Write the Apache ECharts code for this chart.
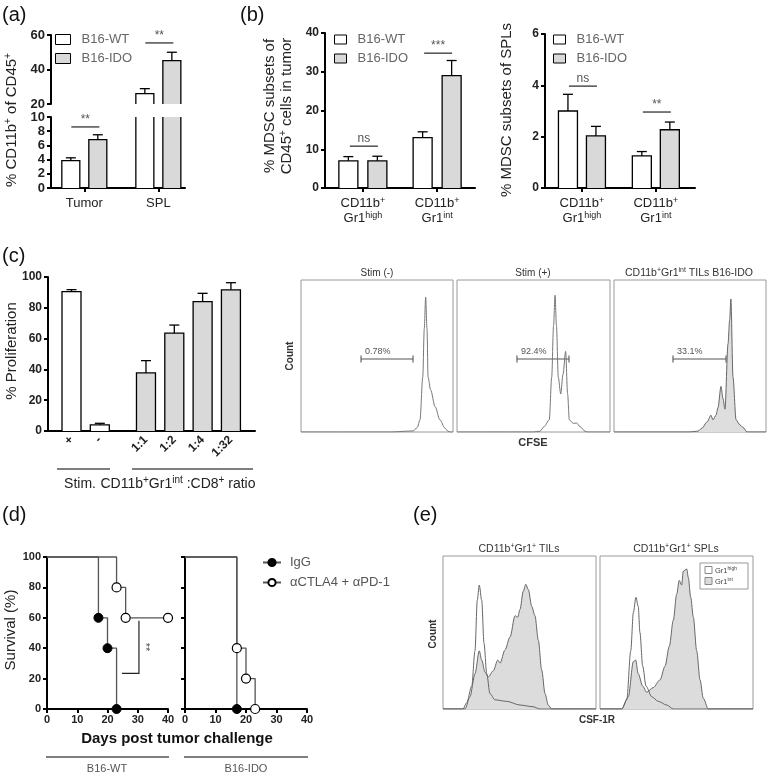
<!DOCTYPE html>
<html><head><meta charset="utf-8">
<script src="https://cdn.jsdelivr.net/npm/echarts@6/dist/echarts.min.js"></script>
<style>html,body{margin:0;padding:0;background:#fff}#c{width:769px;height:776px}</style>
</head><body><div id="c"></div><script>
// ================= DATA =================
// (a) % CD11b+ of CD45+
const aCats = ['Tumor', 'SPL'];
const aWT = [3.85, 26.0], aWTerr = [0.4, 2.9];
const aIDO = [6.8, 45.1], aIDOerr = [0.7, 4.9];
const aSigLow = [{cat: 0, y: 8.6, text: '**'}];
const aSigUp = [{cat: 1, y: 55.4, text: '**'}];
// (b) MDSC subsets in tumor / in spleen
const bCats = ['CD11b^{+}\nGr1^{high}', 'CD11b^{+}\nGr1^{int}'];
const bTumorWT = [7.0, 13.0], bTumorWTerr = [1.1, 1.5];
const bTumorIDO = [7.0, 29.0], bTumorIDOerr = [1.2, 3.9];
const bTumorSig = [{cat: 0, y: 10.8, text: 'ns'}, {cat: 1, y: 34.8, text: '***'}];
const bSplWT = [3.0, 1.25], bSplWTerr = [0.65, 0.17];
const bSplIDO = [2.03, 2.27], bSplIDOerr = [0.37, 0.3];
const bSplSig = [{cat: 0, y: 3.97, text: 'ns'}, {cat: 1, y: 2.96, text: '**'}];
// (c) proliferation
const cCats = ['+', '-', '1:1', '1:2', '1:4', '1:32'];
const cProlif = [90.5, 4.0, 37.7, 63.5, 84.0, 91.7];
const cProlifErr = [1.3, 1.0, 8.0, 5.3, 5.4, 4.6];
const cGroupOf = [0, 0, 1, 1, 1, 1];
// (c) CFSE histograms  [CFSE (% of range), count (% of max scale)]
const cfseStimNeg = [[0,0],[60,0],[68.4,0.5],[73.9,0.7],[76.5,3],[78.3,8],[80.1,36],[81.1,68],[82.0,88.8],[82.9,68],[83.6,36],[85.3,27.6],[88.2,16.7],[91.4,8],[94.7,2.6],[96.7,0.5],[98,0],[100,0]];
const cfseStimPos = [[0,0],[50,0],[54.2,0.5],[56.9,3.5],[60.3,8],[61.9,36],[63.1,70],[64.1,90],[65.0,70],[66.2,36],[67.8,25],[69.3,38],[71.0,53],[72.3,25],[73.4,8],[76.0,5.7],[78.2,5.9],[80.4,3.5],[83.7,0.5],[85,0],[100,0]];
const cfseTilIdo = [[0,0],[50,0],[55.3,0.6],[57.9,2.6],[61.2,6.6],[63.8,11],[65.1,8],[67.1,11],[68.4,16],[70.4,30],[71.7,22],[73.0,15],[75.0,58],[76.1,74],[76.9,87.5],[78.3,36],[80.3,8],[82.9,4.6],[84.9,3],[87.5,0],[100,0]];
const cfseGates = [{lo: 39.5, hi: 73.7, y: 48, label: '0.78%'}, {lo: 39.2, hi: 73.2, y: 48, label: '92.4%'}, {lo: 38.8, hi: 73.7, y: 48, label: '33.1%'}];
// (d) survival
const wtIgGDays = [0, 17, 20, 23], wtIgGSurv = [100, 60, 40, 0];
const wtAbDays = [0, 23, 26, 40], wtAbSurv = [100, 80, 60, 60];
const idoIgGDays = [0, 17], idoIgGSurv = [100, 0];
const idoAbDays = [0, 17, 20, 23], idoAbSurv = [100, 40, 20, 0];
const sigD = [{x1: 24.8, x2: 30.4, yTop: 58, yBottom: 23.5, text: '**'}];
// (e) CSF-1R histograms
const tilHigh = [[0,0],[13,0],[15.5,4],[18.8,15],[20.9,38],[22.4,71],[23.7,81],[25.3,71],[26.8,43],[28.6,23],[30.7,10],[34.0,6],[41.6,5],[50.3,2.6],[58.8,1.5],[63.4,0],[100,0]];
const tilInt = [[0,0],[14.4,0],[17.6,8],[20.9,23],[23.7,38],[25.3,32],[27.5,24],[29.6,21],[32.9,25],[35.8,32],[37.3,30],[40.5,38.6],[43.8,47],[47.1,61],[48.8,60],[50.3,65],[52.5,77],[54.1,81.5],[55.8,78],[58.0,67],[60.1,61],[62.3,45],[64.5,25.5],[66.7,10],[68.8,2.6],[71.0,0],[100,0]];
const splHigh = [[0,0],[14.2,0],[17.5,6],[20.1,38],[21.8,63],[23.5,73],[25.0,67],[26.1,50],[27.9,28],[30.1,15],[33.8,8],[38.1,5],[43.6,2.6],[47.9,0],[100,0]];
const splInt = [[0,0],[14.2,0],[18.5,8],[21.8,31],[23.3,32],[25.0,23],[27.9,15],[30.5,11],[34.8,14],[39.2,19],[42.5,28],[45.3,41],[47.9,58],[50.1,75],[51.8,84],[53.4,81],[54.4,90],[56.7,91.5],[57.7,86],[59.3,73],[61.0,60],[63.2,38],[65.4,19],[67.5,7],[70.8,0],[100,0]];

// ================= HELPERS =================
const F = '"Liberation Sans", Arial, Helvetica, sans-serif';
const WT_FILL = '#ffffff', IDO_FILL = '#d9d9d9';
function toRich(s) {
  return s.split('\n').map(line => line.split(/(\^\{[^}]*\})/).filter(p => p.length)
    .map(p => p.startsWith('^{') ? '{s|' + p.slice(2, -1) + '}' : '{n|' + p + '}').join('')).join('\n');
}
function richSet(size, color, weight, lh) {
  lh = lh || Math.round(size * 1.2);
  return {
    n: {fontSize: size, fontFamily: F, fontWeight: weight || 'normal', lineHeight: lh, color: color, fill: color},
    s: {fontSize: Math.round(size * 0.68), fontFamily: F, fontWeight: weight || 'normal', verticalAlign: 'top', color: color, fill: color}
  };
}
function T(x, y, text, o) {
  o = o || {};
  const size = o.size || 12, color = o.color || '#222', weight = o.weight || 'normal';
  const st = {text: o.rich ? toRich(text) : text, fill: color, fontSize: size, fontFamily: F, fontWeight: weight,
    textAlign: o.align || 'center', align: o.align || 'center',
    textVerticalAlign: o.va || 'middle', verticalAlign: o.va || 'middle'};
  if (o.rich) st.rich = richSet(size, color, weight, o.lh);
  return {type: 'text', x: x, y: y, rotation: o.rot || 0, silent: true, z: 100, style: st};
}
function L(x1, y1, x2, y2, w, c) {
  return {type: 'line', silent: true, z: 100, shape: {x1, y1, x2, y2}, style: {stroke: c || '#000', lineWidth: w || 1.2}};
}
function grid(l, t, w, h, show) {
  return {left: l, top: t, width: w, height: h, show: !!show, borderColor: '#9a9a9a', borderWidth: 1, containLabel: false};
}
const AX_LINE = {show: true, onZero: false, lineStyle: {color: '#000', width: 2}};
const AX_TICK = {show: true, length: 4, lineStyle: {color: '#000', width: 2}};
function catX(gi, min, max, cats, show) {
  const idx = cats.map((_, i) => i);
  return {type: 'value', gridIndex: gi, min, max, show: show !== false,
    axisLine: AX_LINE, axisTick: Object.assign({customValues: idx}, AX_TICK),
    axisLabel: {customValues: idx, margin: 8, color: '#222', formatter: v => toRich(cats[Math.round(v)]), rich: richSet(13, '#222', 'normal', 15)},
    splitLine: {show: false}};
}
function valY(gi, min, max, interval, showLabels, size) {
  return {type: 'value', gridIndex: gi, min, max, interval, axisLine: AX_LINE, axisTick: AX_TICK,
    axisLabel: {show: showLabels !== false, fontSize: size || 12, fontWeight: 'bold', color: '#222', margin: 6, fontFamily: F},
    splitLine: {show: false}};
}
function hid(gi) { return {type: 'value', gridIndex: gi, min: 0, max: 100, show: false}; }

function makeBars(name, gi, pts, off, bw, fills, ymin, ymax) {
  return {
    type: 'custom', name, xAxisIndex: gi, yAxisIndex: gi, clip: false, silent: true,
    itemStyle: {color: fills[0], borderColor: '#000', borderWidth: 1},
    data: pts,
    renderItem(params, api) {
      const c = api.value(0), v = api.value(1), e = api.value(2), f = fills[api.value(3) || 0];
      if (v <= ymin) return null;
      const vc = Math.min(v, ymax);
      const b = api.coord([c, ymin]), t = api.coord([c, vc]);
      const cx = b[0] + off, x0 = cx - bw / 2, x1 = cx + bw / 2;
      const ch = [{type: 'rect', shape: {x: x0, y: t[1], width: bw, height: b[1] - t[1]}, style: {fill: f, stroke: null}}];
      const S = {stroke: '#000', lineWidth: 1.3, fill: null};
      if (v <= ymax) {
        ch.push({type: 'polyline', shape: {points: [[x0, b[1]], [x0, t[1]], [x1, t[1]], [x1, b[1]]]}, style: S});
        const et = api.coord([c, Math.min(v + e, ymax)]);
        ch.push({type: 'line', shape: {x1: cx, y1: t[1], x2: cx, y2: et[1]}, style: S});
        ch.push({type: 'line', shape: {x1: cx - 5, y1: et[1], x2: cx + 5, y2: et[1]}, style: S});
      } else {
        ch.push({type: 'line', shape: {x1: x0, y1: b[1], x2: x0, y2: t[1]}, style: S});
        ch.push({type: 'line', shape: {x1: x1, y1: b[1], x2: x1, y2: t[1]}, style: S});
      }
      return {type: 'group', children: ch};
    }
  };
}
function pairBars(gi, wt, wtErr, ido, idoErr, off, bw, ymin, ymax) {
  return [
    makeBars('B16-WT', gi, wt.map((v, i) => [i, v, wtErr[i], 0]), -off, bw, [WT_FILL], ymin, ymax),
    makeBars('B16-IDO', gi, ido.map((v, i) => [i, v, idoErr[i], 0]), off, bw, [IDO_FILL], ymin, ymax)
  ];
}
function makeSig(gi, sigs) {
  return {
    type: 'custom', xAxisIndex: gi, yAxisIndex: gi, clip: false, silent: true,
    data: sigs.map((s, i) => [s.cat, s.y, i]),
    renderItem(params, api) {
      const p = api.coord([api.value(0), api.value(1)]);
      const s = sigs[api.value(2)];
      return {type: 'group', children: [
        {type: 'line', shape: {x1: p[0] - 13, y1: p[1], x2: p[0] + 15, y2: p[1]}, style: {stroke: '#222', lineWidth: 1.2}},
        {type: 'text', x: p[0] + 1, y: p[1] - 1, style: {text: s.text, fill: '#555', fontSize: 12, fontFamily: F,
          textAlign: 'center', align: 'center', textVerticalAlign: 'bottom', verticalAlign: 'bottom'}}
      ]};
    }
  };
}
function flowLine(gi, pts, fill, color) {
  const s = {type: 'line', xAxisIndex: gi, yAxisIndex: gi, data: pts, showSymbol: false, smooth: 0.3, smoothMonotone: 'x',
    silent: true, lineStyle: {color: color || '#777', width: 1}};
  if (fill) s.areaStyle = {color: fill, opacity: 1};
  return s;
}
function gateSeries(gi, g) {
  return {
    type: 'custom', xAxisIndex: gi, yAxisIndex: gi, clip: false, silent: true,
    data: [[g.lo, g.y, g.hi]],
    renderItem(params, api) {
      const a = api.coord([api.value(0), api.value(1)]), b = api.coord([api.value(2), api.value(1)]);
      const S = {stroke: '#555', lineWidth: 1.1};
      return {type: 'group', children: [
        {type: 'line', shape: {x1: a[0], y1: a[1], x2: b[0], y2: b[1]}, style: S},
        {type: 'line', shape: {x1: a[0], y1: a[1] - 3.5, x2: a[0], y2: a[1] + 3.5}, style: S},
        {type: 'line', shape: {x1: b[0], y1: b[1] - 3.5, x2: b[0], y2: b[1] + 3.5}, style: S},
        {type: 'text', x: a[0] + 4, y: a[1] - 3, style: {text: g.label, fill: '#555', fontSize: 9, fontFamily: F,
          textAlign: 'left', align: 'left', textVerticalAlign: 'bottom', verticalAlign: 'bottom'}}
      ]};
    }
  };
}
function survSeries(name, gi, days, surv, filled) {
  return {
    type: 'line', name, xAxisIndex: gi, yAxisIndex: gi, step: 'end', clip: false, silent: true,
    symbol: 'circle', symbolSize: 9, showAllSymbol: true,
    lineStyle: {color: '#555', width: 1.3},
    itemStyle: filled ? {color: '#000', borderColor: '#000', borderWidth: 1} : {color: '#fff', borderColor: '#000', borderWidth: 1.2},
    data: days.map((d, i) => i === 0 ? {value: [d, surv[i]], symbol: 'none'} : {value: [d, surv[i]]})
  };
}

const cPos = cCats.map((_, i) => i + (cGroupOf[i] ? 0.63 : 0));

// ================= OPTION =================
const grids = [
  grid(51, 35, 134, 69), grid(51, 117, 134, 71),
  grid(325, 33, 150, 155), grid(545, 34, 150, 154),
  grid(48, 277, 207, 154),
  grid(301, 280, 152, 152, true), grid(457, 280, 153, 152, true), grid(614, 280, 152, 152, true),
  grid(47, 557, 121, 152), grid(185, 557, 122, 152),
  grid(443, 556, 153, 153, true), grid(600, 556, 153, 153, true)
];
const xAxes = [
  catX(0, -0.45, 1.36, aCats, false), catX(1, -0.45, 1.36, aCats),
  catX(2, -0.51, 1.51, bCats), catX(3, -0.5, 1.53, bCats),
  {type: 'value', gridIndex: 4, min: -0.83, max: 6.48, axisLine: AX_LINE, axisTick: {show: false},
    axisLabel: {customValues: cPos, rotate: 45, margin: 7, fontSize: 12, fontWeight: 'bold', color: '#222', fontFamily: F,
      formatter: v => { const k = cPos.findIndex(p => Math.abs(p - v) < 1e-6); return k >= 0 ? cCats[k] : ''; }},
    splitLine: {show: false}},
  hid(5), hid(6), hid(7),
  {type: 'value', gridIndex: 8, min: 0, max: 40, interval: 10, axisLine: AX_LINE, axisTick: AX_TICK,
    axisLabel: {fontSize: 11, fontWeight: 'bold', color: '#222', margin: 5, fontFamily: F}, splitLine: {show: false}},
  {type: 'value', gridIndex: 9, min: 0, max: 40, interval: 10, axisLine: AX_LINE, axisTick: AX_TICK,
    axisLabel: {fontSize: 11, fontWeight: 'bold', color: '#222', margin: 5, fontFamily: F}, splitLine: {show: false}},
  hid(10), hid(11)
];
const yAxes = [
  valY(0, 20, 60, 20, true, 13), valY(1, 0, 10, 2, true, 13),
  valY(2, 0, 40, 10), valY(3, 0, 6, 2),
  valY(4, 0, 100, 20, true, 12),
  hid(5), hid(6), hid(7),
  valY(8, 0, 100, 20, true, 11), valY(9, 0, 100, 20, false),
  hid(10), hid(11)
];
const barLegendData = [
  {name: 'B16-WT', icon: 'rect', itemStyle: {color: WT_FILL, borderColor: '#000', borderWidth: 1}},
  {name: 'B16-IDO', icon: 'rect', itemStyle: {color: IDO_FILL, borderColor: '#000', borderWidth: 1}}
];
function barLegend(left, top, w, h) {
  return {left, top, orient: 'vertical', itemWidth: w, itemHeight: h, itemGap: 6, selectedMode: false, padding: 0,
    textStyle: {fontSize: 13, color: '#666', fontFamily: F, padding: [0, 0, 0, 6]}, data: barLegendData};
}

const series = [].concat(
  pairBars(0, aWT, aWTerr, aIDO, aIDOerr, 13.5, 18, 20, 60),
  pairBars(1, aWT, aWTerr, aIDO, aIDOerr, 13.5, 18, 0, 10),
  [makeSig(1, aSigLow), makeSig(0, aSigUp)],
  pairBars(2, bTumorWT, bTumorWTerr, bTumorIDO, bTumorIDOerr, 14.5, 19, 0, 40),
  [makeSig(2, bTumorSig)],
  pairBars(3, bSplWT, bSplWTerr, bSplIDO, bSplIDOerr, 14, 19, 0, 6),
  [makeSig(3, bSplSig)],
  [makeBars('prolif', 4, cProlif.map((v, i) => [cPos[i], v, cProlifErr[i], cGroupOf[i]]), 0, 19, [WT_FILL, IDO_FILL], 0, 100)],
  [flowLine(5, cfseStimNeg), flowLine(6, cfseStimPos), flowLine(7, cfseTilIdo, '#dedede', '#666')],
  cfseGates.map((g, i) => gateSeries(5 + i, g)),
  [survSeries('IgG', 8, wtIgGDays, wtIgGSurv, true), survSeries('αCTLA4 + αPD-1', 8, wtAbDays, wtAbSurv, false),
   survSeries('IgG', 9, idoIgGDays, idoIgGSurv, true), survSeries('αCTLA4 + αPD-1', 9, idoAbDays, idoAbSurv, false)],
  [{
    type: 'custom', xAxisIndex: 8, yAxisIndex: 8, clip: false, silent: true,
    data: sigD.map(s => [s.x2, s.yTop, s.x1, s.yBottom]),
    renderItem(params, api) {
      const top = api.coord([api.value(0), api.value(1)]), bot = api.coord([api.value(0), api.value(3)]), lft = api.coord([api.value(2), api.value(3)]);
      return {type: 'group', children: [
        {type: 'polyline', shape: {points: [lft, bot, top]}, style: {stroke: '#222', lineWidth: 1.2, fill: null}},
        {type: 'text', x: top[0] + 6, y: (top[1] + bot[1]) / 2, rotation: -Math.PI / 2,
          style: {text: sigD[0].text, fill: '#444', fontSize: 11, fontFamily: F, textAlign: 'center', align: 'center', textVerticalAlign: 'middle', verticalAlign: 'middle'}}
      ]};
    }
  }],
  [flowLine(10, tilInt, '#dcdcdc', '#666'), flowLine(10, tilHigh, null, '#666'),
   flowLine(11, splInt, '#dcdcdc', '#666'), flowLine(11, splHigh, null, '#666')]
);

const R90 = Math.PI / 2;
const graphics = [
  T(2, 15, '(a)', {size: 20, align: 'left', color: '#111'}),
  T(240, 15, '(b)', {size: 20, align: 'left', color: '#111'}),
  T(2, 256, '(c)', {size: 20, align: 'left', color: '#111'}),
  T(2, 515, '(d)', {size: 20, align: 'left', color: '#111'}),
  T(413, 515, '(e)', {size: 20, align: 'left', color: '#111'}),
  // axis titles
  T(12, 120, '% CD11b^{+} of CD45^{+}', {size: 15, rot: R90, rich: true}),
  T(270, 106, '% MDSC subsets of', {size: 15, rot: R90}),
  T(287, 106, 'CD45^{+} cells in tumor', {size: 15, rot: R90, rich: true}),
  T(507, 110, '% MDSC subsets of SPLs', {size: 15, rot: R90}),
  T(12, 351, '% Proliferation', {size: 15, rot: R90}),
  T(11, 630, 'Survival (%)', {size: 15, rot: R90}),
  // (c) group labels
  L(57, 469, 110, 469), L(132, 469, 253, 469),
  T(80, 484, 'Stim.', {size: 14}),
  T(178, 484, 'CD11b^{+}Gr1^{int} :CD8^{+} ratio', {size: 14, rich: true}),
  // (c) flow labels
  T(377, 273, 'Stim (-)', {size: 10, color: '#333'}),
  T(533, 273, 'Stim (+)', {size: 10, color: '#333'}),
  T(689, 273, 'CD11b^{+}Gr1^{int} TILs B16-IDO', {size: 10.5, color: '#333', rich: true}),
  T(290, 356, 'Count', {size: 10, rot: R90, weight: 'bold', color: '#333'}),
  T(533, 443, 'CFSE', {size: 11, weight: 'bold', color: '#333'}),
  // (d) labels
  T(177, 739, 'Days post tumor challenge', {size: 15, weight: 'bold', color: '#111'}),
  L(46, 757, 169, 757), L(184, 757, 308, 757),
  T(107, 769, 'B16-WT', {size: 11, color: '#555'}),
  T(246, 769, 'B16-IDO', {size: 11, color: '#555'}),
  // (e) labels
  T(519, 549, 'CD11b^{+}Gr1^{+} TILs', {size: 10.5, color: '#333', rich: true}),
  T(676, 549, 'CD11b^{+}Gr1^{+} SPLs', {size: 10.5, color: '#333', rich: true}),
  T(433, 634, 'Count', {size: 10, rot: R90, weight: 'bold', color: '#333'}),
  T(597, 720, 'CSF-1R', {size: 10, weight: 'bold', color: '#333'}),
  {type: 'rect', silent: true, z: 100, shape: {x: 700, y: 563, width: 48, height: 26}, style: {fill: '#fff', stroke: '#999', lineWidth: 1}},
  {type: 'rect', silent: true, z: 101, shape: {x: 705, y: 566.5, width: 7, height: 7}, style: {fill: '#fff', stroke: '#888', lineWidth: 1}},
  {type: 'rect', silent: true, z: 101, shape: {x: 705, y: 577.5, width: 7, height: 7}, style: {fill: '#dcdcdc', stroke: '#888', lineWidth: 1}},
  T(715, 570.5, 'Gr1^{high}', {size: 7.5, align: 'left', color: '#444', rich: true}),
  T(715, 581.5, 'Gr1^{int}', {size: 7.5, align: 'left', color: '#444', rich: true})
];

const option = {
  animation: false,
  backgroundColor: '#fff',
  textStyle: {fontFamily: F},
  grid: grids,
  xAxis: xAxes,
  yAxis: yAxes,
  legend: [
    barLegend(55, 33, 15, 10),
    barLegend(334, 33, 12, 9),
    barLegend(553, 33, 12, 9),
    {left: 262, top: 556, orient: 'vertical', itemWidth: 18, itemHeight: 9, itemGap: 7, selectedMode: false, padding: 0,
      textStyle: {fontSize: 13, color: '#555', fontFamily: F, padding: [0, 0, 0, 4]}, data: ['IgG', 'αCTLA4 + αPD-1']}
  ],
  series: series,
  graphic: {elements: graphics}
};
const chart = echarts.init(document.getElementById('c'), null, {renderer: 'canvas'});
chart.setOption(option);
</script></body></html>
